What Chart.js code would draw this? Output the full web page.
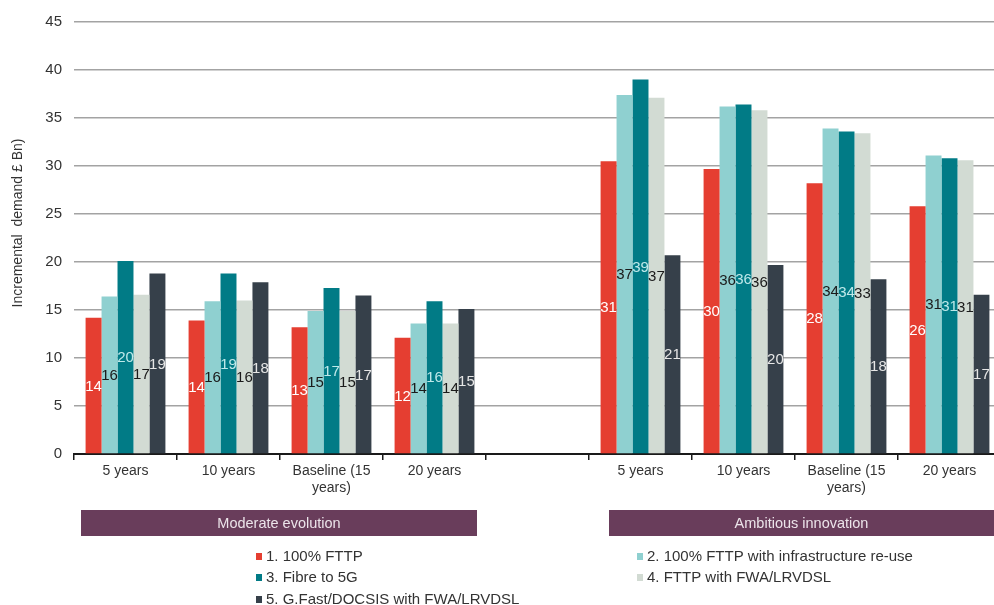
<!DOCTYPE html>
<html>
<head>
<meta charset="utf-8">
<script src="https://cdn.jsdelivr.net/npm/chart.js@4.4.1/dist/chart.umd.min.js"></script>
<style>
  html, body { margin: 0; padding: 0; background: #ffffff; overflow: hidden; }
  #wrap { position: relative; width: 1001px; height: 605px; }
</style>
</head>
<body>
<div id="wrap"><canvas id="chart"></canvas></div>
<script>
// Horizons for each scenario; the empty slot separates the two scenario groups
const categories = [
  "5 years", "10 years", ["Baseline (15", "years)"], "20 years",
  "",
  "5 years", "10 years", ["Baseline (15", "years)"], "20 years"
];

const seriesNames = [
  "1. 100% FTTP",
  "2. 100% FTTP with infrastructure re-use",
  "3. Fibre to 5G",
  "4. FTTP with FWA/LRVDSL",
  "5. G.Fast/DOCSIS with FWA/LRVDSL"
];

// Incremental demand, £ Bn
const fttp100       = [14.2, 13.9, 13.2, 12.1, null, 30.5, 29.7, 28.2, 25.8];
const fttpReuse     = [16.4, 15.9, 14.9, 13.6, null, 37.4, 36.2, 33.9, 31.1];
const fibreTo5G     = [20.1, 18.8, 17.3, 15.9, null, 39.0, 36.4, 33.6, 30.8];
const fttpFwa       = [16.6, 16.0, 14.9, 13.6, null, 37.1, 35.8, 33.4, 30.6];
const gfastDocsis   = [18.8, 17.9, 16.5, 15.1, null, 20.7, 19.7, 18.2, 16.6];

const yTicks = [0, 5, 10, 15, 20, 25, 30, 35, 40, 45];

const scenarioBands = ["Moderate evolution", "Ambitious innovation"];

const barColors   = ["#e53e31", "#8fd0d0", "#017b86", "#d2dbd3", "#36404a"];
const labelColors = ["#ffffff", "#1a1a1a", "#bfe9ea", "#1a1a1a", "#e6e6e6"];

const FONT = "'Liberation Sans', Arial, sans-serif";

const seriesValues = [fttp100, fttpReuse, fibreTo5G, fttpFwa, gfastDocsis];

// Rounded value printed in the middle of every bar
const barValueLabels = {
  id: "barValueLabels",
  afterDatasetsDraw(chart) {
    const ctx = chart.ctx;
    ctx.save();
    ctx.font = "15px " + FONT;
    ctx.textAlign = "center";
    ctx.textBaseline = "middle";
    chart.data.datasets.forEach((ds, di) => {
      const meta = chart.getDatasetMeta(di);
      meta.data.forEach((bar, i) => {
        const v = ds.data[i];
        if (v === null || v === undefined) return;
        const props = bar.getProps(["x", "y", "base"], true);
        ctx.fillStyle = labelColors[di];
        ctx.fillText(String(Math.round(v)), props.x, (props.y + props.base) / 2 + 1);
      });
    });
    ctx.restore();
  }
};

// Rotated y-axis title, scenario bands and the two-column legend
const decorations = {
  id: "decorations",
  afterDraw(chart) {
    const ctx = chart.ctx;
    ctx.save();

    // axis title
    ctx.translate(18, 223);
    ctx.rotate(-Math.PI / 2);
    ctx.font = "14px " + FONT;
    ctx.fillStyle = "#333333";
    ctx.textAlign = "center";
    ctx.textBaseline = "middle";
    ctx.fillText("Incremental  demand \u00a3 Bn)", 0, 0);
    ctx.setTransform(1, 0, 0, 1, 0, 0);

    // scenario bands under the category labels
    const bands = [
      { x0: 81, x1: 477 },
      { x0: 609, x1: 1001 }
    ];
    ctx.font = "14.5px " + FONT;
    ctx.textAlign = "center";
    ctx.textBaseline = "middle";
    bands.forEach((b, i) => {
      ctx.fillStyle = "#693d5b";
      ctx.fillRect(b.x0, 510, b.x1 - b.x0, 26);
      ctx.fillStyle = "#ece4ea";
      const cx = i === 1 ? (b.x0 + 994) / 2 : (b.x0 + b.x1) / 2;
      ctx.fillText(scenarioBands[i], cx, 523.5);
    });

    // legend
    const slots = [
      { x: 256, y: 556 }, { x: 637, y: 556 },
      { x: 256, y: 577 }, { x: 637, y: 577 },
      { x: 256, y: 599 }
    ];
    ctx.textAlign = "left";
    ctx.font = "15px " + FONT;
    chart.data.datasets.forEach((ds, i) => {
      const s = slots[i];
      ctx.fillStyle = ds.backgroundColor;
      ctx.fillRect(s.x, s.y - 3, 6, 7);
      ctx.fillStyle = "#333333";
      ctx.fillText(ds.label, s.x + 10, s.y + 1);
    });

    ctx.restore();
  }
};

new Chart(document.getElementById("chart"), {
  type: "bar",
  data: {
    labels: categories,
    datasets: seriesValues.map((vals, i) => ({
      label: seriesNames[i],
      data: vals,
      backgroundColor: barColors[i],
      borderWidth: 0,
      barPercentage: 1,
      categoryPercentage: 0.775
    }))
  },
  options: {
    responsive: true,
    maintainAspectRatio: false,
    animation: false,
    layout: { padding: { top: 22, right: 0, bottom: 106, left: 0 } },
    plugins: {
      legend: { display: false },
      tooltip: { enabled: false },
      title: { display: false }
    },
    scales: {
      x: {
        grid: {
          display: true,
          drawOnChartArea: false,
          drawTicks: true,
          tickLength: 6,
          offset: true,
          color: "#1a1a1a",
          lineWidth: 1.5
        },
        border: { display: true, color: "#1a1a1a", width: 2 },
        ticks: {
          color: "#333333",
          font: { family: FONT, size: 14, lineHeight: 1.2 },
          padding: 3,
          maxRotation: 0,
          autoSkip: false
        },
        afterFit(scale) { scale.height = 45; }
      },
      y: {
        min: 0,
        max: 45,
        afterBuildTicks(scale) { scale.ticks = yTicks.map(v => ({ value: v })); },
        grid: { color: "#a3a3a3", lineWidth: 1.5, drawTicks: false },
        border: { display: false },
        ticks: {
          color: "#333333",
          font: { family: FONT, size: 15 },
          padding: 12
        },
        afterFit(scale) { scale.width = 74; }
      }
    }
  },
  plugins: [barValueLabels, decorations]
});
</script>
</body>
</html>
